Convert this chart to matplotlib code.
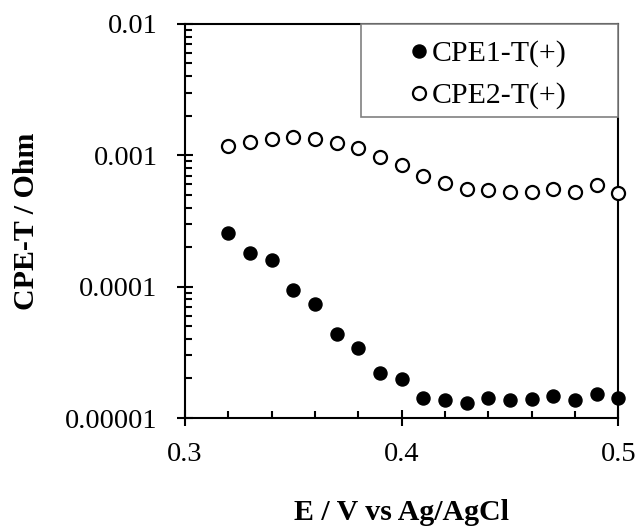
import matplotlib
matplotlib.use("Agg")
import matplotlib.pyplot as plt
from matplotlib.ticker import FixedLocator, FixedFormatter, LogLocator, MultipleLocator, NullFormatter
from matplotlib.patches import Rectangle
from matplotlib.lines import Line2D

# Potential (V vs Ag/AgCl)
potential = [0.32, 0.33, 0.34, 0.35, 0.36, 0.37, 0.38, 0.39, 0.40, 0.41,
             0.42, 0.43, 0.44, 0.45, 0.46, 0.47, 0.48, 0.49, 0.50]

# CPE1-T(+) fitted values
cpe1_t = [2.57e-4, 1.79e-4, 1.59e-4, 9.5e-5, 7.4e-5, 4.35e-5, 3.4e-5, 2.22e-5, 1.97e-5, 1.43e-5,
          1.36e-5, 1.29e-5, 1.43e-5, 1.37e-5, 1.39e-5, 1.47e-5, 1.36e-5, 1.52e-5, 1.41e-5]

# CPE2-T(+) fitted values
cpe2_t = [1.18e-3, 1.27e-3, 1.32e-3, 1.37e-3, 1.32e-3, 1.25e-3, 1.13e-3, 9.7e-4, 8.4e-4, 6.95e-4,
          6.1e-4, 5.5e-4, 5.43e-4, 5.25e-4, 5.3e-4, 5.5e-4, 5.3e-4, 5.93e-4, 5.2e-4]

series_labels = ["CPE1-T(+)", "CPE2-T(+)"]
x_ticks = [0.3, 0.4, 0.5]
x_tick_labels = ["0.3", "0.4", "0.5"]
y_ticks = [1e-5, 1e-4, 1e-3, 1e-2]
y_tick_labels = ["0.00001", "0.0001", "0.001", "0.01"]

plt.rcParams["font.family"] = ["Liberation Serif", "DejaVu Serif"]
TICK_FS = 20.5
LABEL_FS = 21.5

fig = plt.figure(figsize=(6.4, 5.29), dpi=100)
ax = fig.add_axes([0.289, 0.2098, 0.677, 0.745])

ms = 9.4
ax.plot(potential, cpe1_t, linestyle="none", marker="o", ms=ms, mfc="black", mec="black",
        clip_on=False, zorder=3)
ax.plot(potential, cpe2_t, linestyle="none", marker="o", ms=ms, mfc="white", mec="black",
        mew=1.6, clip_on=False, zorder=3)

ax.set_yscale("log")
ax.set_xlim(0.3, 0.5)
ax.set_ylim(1e-5, 1e-2)

ax.xaxis.set_major_locator(FixedLocator(x_ticks))
ax.xaxis.set_major_formatter(FixedFormatter(x_tick_labels))
ax.xaxis.set_minor_locator(MultipleLocator(0.02))
ax.yaxis.set_major_locator(FixedLocator(y_ticks))
ax.yaxis.set_major_formatter(FixedFormatter(y_tick_labels))
ax.yaxis.set_minor_locator(LogLocator(base=10, subs=range(2, 10)))
ax.yaxis.set_minor_formatter(NullFormatter())

ax.tick_params(which="major", direction="inout", length=11.5, width=1.5, labelsize=TICK_FS)
ax.tick_params(axis="y", which="major", pad=14)
ax.tick_params(axis="x", which="major", pad=11.5)
ax.tick_params(which="minor", direction="in", length=5, width=1.5)
ax.tick_params(top=False, right=False, which="both")

for s in ax.spines.values():
    s.set_linewidth(1.5)
    s.set_color("black")

ax.set_xlabel("E / V vs Ag/AgCl", fontsize=LABEL_FS, fontweight="bold", va="center")
ax.set_ylabel("CPE-T / Ohm", fontsize=LABEL_FS, fontweight="bold", va="center")
ax.xaxis.set_label_coords(0.5, -0.241)
ax.yaxis.set_label_coords(-0.365, 0.5)

# Legend frame and entries
ax.add_patch(Rectangle((0.4065, 0.764), 1 - 0.4065, 1 - 0.764, transform=ax.transAxes,
                       facecolor="white", edgecolor="#808080", lw=1.2, clip_on=False, zorder=4))
handles = [Line2D([], [], linestyle="none", marker="o", ms=ms, mfc="black", mec="black"),
           Line2D([], [], linestyle="none", marker="o", ms=ms, mfc="white", mec="black", mew=1.6)]
leg = ax.legend(handles, series_labels, loc="center", bbox_to_anchor=(0.702, 0.871),
                frameon=False, fontsize=LABEL_FS, handlelength=0.5, handletextpad=0.2,
                borderpad=0, labelspacing=0.5)
leg.set_zorder(5)

fig.savefig("out.png", dpi=100)
